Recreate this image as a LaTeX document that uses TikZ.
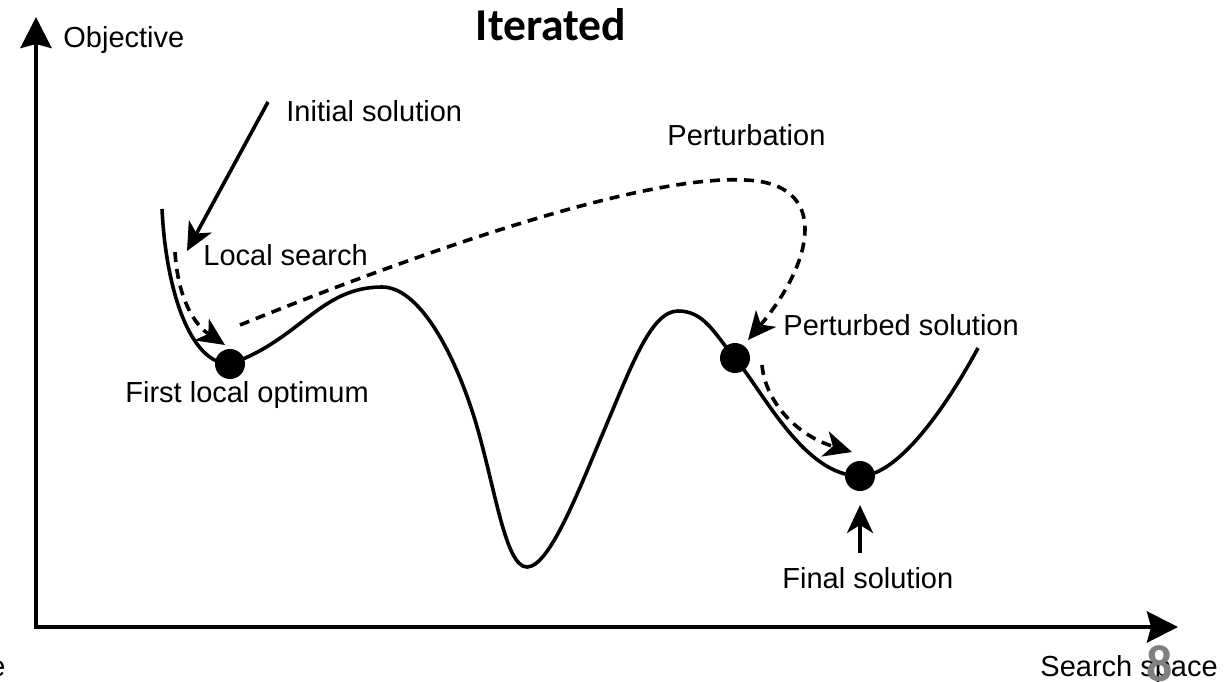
\documentclass[tikz,border=0pt]{standalone}
\usepackage{fontspec}
\setmainfont{Liberation Sans}
\newfontfamily\calfont{Carlito}
\usetikzlibrary{calc,positioning}
\usetikzlibrary{arrows.meta}

\begin{document}
\begin{tikzpicture}[x=0.5pt,y=-0.5pt,
    lbl/.style={font=\fontsize{14.5pt}{17pt}\selectfont,inner sep=0pt,anchor=base west},
    curve/.style={line width=1.8pt},
    dashes/.style={line width=1.8pt,dash pattern=on 5pt off 3.5pt},
    tip/.style={-{Stealth[length=14pt,width=13pt,inset=4pt]}},
    dot/.style={circle,fill,inner sep=0pt,minimum size=15pt}]
    \useasboundingbox (0,0) rectangle (1229,681);
    % axes
    \coordinate (ytop) at (36,17);
    \coordinate (xend) at (1178,627);
    \draw[line width=2.2pt,{Stealth[length=15.5pt,width=15.5pt,inset=2pt]}-{Stealth[length=15.5pt,width=15.5pt,inset=2pt]}] (ytop) |- (xend);
    \node[lbl] (objective) at (63,47) {Objective};
    \node[lbl] (space) at (1040,676) {Search space};
    \node[lbl,anchor=base east] (cut) at (6,676) {e};
    \node[font=\calfont\bfseries\fontsize{22.8pt}{26pt}\selectfont,inner sep=0pt,anchor=base] (title) at (551,40) {Iterated};
    \node[font=\calfont\bfseries\fontsize{26pt}{30pt}\selectfont,text=gray,inner sep=0pt,anchor=base] (page) at (1160,681) {8};
    % landscape
    \draw[curve] (162,209) .. controls (166,290) and (190,364) .. (230,364)
        .. controls (300,340) and (320,287) .. (382,287)
        .. controls (420,287) and (455,355) .. (475,420)
        .. controls (495,486) and (505,567) .. (527,567)
        .. controls (548,567) and (575,500) .. (600,440)
        .. controls (630,370) and (650,311) .. (678,311)
        .. controls (705,311) and (715,335) .. (735,358)
        .. controls (765,395) and (805,476) .. (860,476)
        .. controls (900,476) and (950,400) .. (978,348);
    \node[dot] (first) at (230,364) {};
    \node[dot] (perturbed) at (735,358) {};
    \node[dot] (final) at (860,476) {};
    \node[lbl] (initial) at (286,121) {Initial solution};
    \node[lbl] (local) at (203,265) {Local search};
    \node[lbl] (firstlbl) at (125,402) {First local optimum};
    \node[lbl] (perturb) at (667,145) {Perturbation};
    \node[lbl] (perturbedlbl) at (783,335) {Perturbed solution};
    \node[lbl] (finallbl) at (782,588) {Final solution};
    % arrows
    \coordinate (initTail) at (268,102);
    \coordinate (initTip) at (187,251);
    \coordinate (lsStart) at (175,252);
    \coordinate (lsTip) at (225,345);
    \coordinate (ptStart) at (240,325);
    \coordinate (ptTop) at (745,180);
    \coordinate (ptTip) at (748,340);
    \coordinate (ls2Start) at (762,365);
    \coordinate (ls2Tip) at (852,452);
    \coordinate (finTail) at (860,553);
    \coordinate (finTip) at (860,505);
    \draw[line width=1.8pt,tip] (initTail) -- (initTip);
    \draw[dashes,tip] (lsStart) .. controls (178,300) and (195,325) .. (lsTip);
    \draw[dashes,tip] (ptStart) .. controls (450,240) and (650,175) .. (ptTop) .. controls (830,183) and (815,260) .. (ptTip);
    \draw[dashes,tip] (ls2Start) .. controls (765,400) and (795,435) .. (ls2Tip);
    \draw[line width=1.8pt,tip] (finTail) -- (finTip);
\end{tikzpicture}
\end{document}
